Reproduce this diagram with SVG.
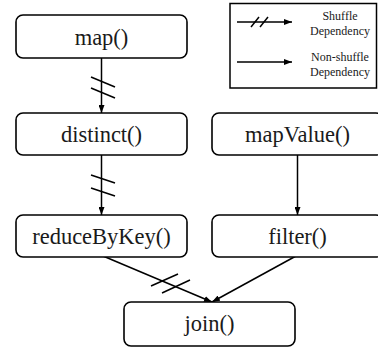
<svg xmlns="http://www.w3.org/2000/svg" width="378" height="350" viewBox="0 0 378 350">
<style>
.box{fill:#fff;stroke:#000;stroke-width:1.6}
.lbl{font-family:"Liberation Serif","Times New Roman",serif;font-size:22.5px;fill:#1a1a1a;text-anchor:middle}
.leg{font-family:"Liberation Serif","Times New Roman",serif;font-size:12px;fill:#1a1a1a;text-anchor:middle}
.edge{stroke:#000;stroke-width:1.5;fill:none}
.hatch{stroke:#000;stroke-width:1.5;fill:none}
</style>
<defs>
<marker id="ah" viewBox="0 0 8 6" refX="8" refY="3" markerWidth="8" markerHeight="6" markerUnits="userSpaceOnUse" orient="auto">
<path d="M0,0 L8,3 L0,6 Z" fill="#000"/>
</marker>
</defs>
<rect width="378" height="350" fill="#fff"/>
<g id="legend">
<rect x="230" y="3.5" width="146.5" height="84.5" fill="#fff" stroke="#000" stroke-width="1.5"/>
<line class="edge" x1="237" y1="22" x2="292" y2="22" marker-end="url(#ah)"/>
<line class="hatch" x1="251" y1="27" x2="259" y2="17"/>
<line class="hatch" x1="260" y1="27" x2="268" y2="17"/>
<line class="edge" x1="237" y1="62" x2="292" y2="62" marker-end="url(#ah)"/>
<text class="leg" x="340" y="20">Shuffle</text>
<text class="leg" x="340" y="34.5">Dependency</text>
<text class="leg" x="340" y="61">Non-shuffle</text>
<text class="leg" x="340" y="75.5">Dependency</text>
</g>
<g id="connectors">
<line class="edge" x1="101.5" y1="58" x2="101.5" y2="113" marker-end="url(#ah)"/>
<line class="hatch" x1="91" y1="77" x2="115" y2="87"/>
<line class="hatch" x1="91" y1="88" x2="115" y2="98"/>
<line class="edge" x1="101.5" y1="155" x2="101.5" y2="215" marker-end="url(#ah)"/>
<line class="hatch" x1="91" y1="175" x2="115" y2="183"/>
<line class="hatch" x1="91" y1="188" x2="115" y2="196"/>
<line class="edge" x1="297.5" y1="155" x2="297.5" y2="215" marker-end="url(#ah)"/>
<line class="edge" x1="103" y1="256" x2="212" y2="302" marker-end="url(#ah)"/>
<line class="hatch" x1="151" y1="286" x2="178" y2="274"/>
<line class="hatch" x1="162" y1="293" x2="190" y2="280"/>
<line class="edge" x1="296" y1="256" x2="212" y2="302" marker-end="url(#ah)"/>
</g>
<g id="map">
<rect class="box" x="16" y="15" width="171" height="43" rx="7"/>
<text class="lbl" x="101.5" y="45">map()</text>
</g>
<g id="distinct">
<rect class="box" x="16" y="113" width="171" height="42" rx="7"/>
<text class="lbl" x="101.5" y="142">distinct()</text>
</g>
<g id="mapValue">
<rect class="box" x="212" y="113" width="171" height="42" rx="7"/>
<text class="lbl" x="297.5" y="142">mapValue()</text>
</g>
<g id="reduceByKey">
<rect class="box" x="16" y="215" width="171" height="42" rx="7"/>
<text class="lbl" x="101.5" y="244">reduceByKey()</text>
</g>
<g id="filter">
<rect class="box" x="212" y="215" width="171" height="42" rx="7"/>
<text class="lbl" x="297.5" y="244">filter()</text>
</g>
<g id="join">
<rect class="box" x="124" y="302" width="171" height="44" rx="7"/>
<text class="lbl" x="209.5" y="331">join()</text>
</g>
</svg>
